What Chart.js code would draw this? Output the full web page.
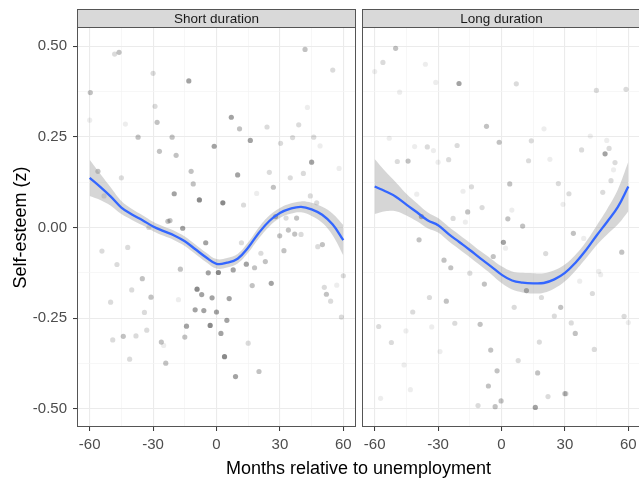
<!DOCTYPE html>
<html><head><meta charset="utf-8">
<script src="https://cdn.jsdelivr.net/npm/chart.js@4"></script>
<style>
html,body{margin:0;padding:0;background:#fff;}
body{width:639px;height:481px;overflow:hidden;position:relative;font-family:"Liberation Sans",Arial,Helvetica,sans-serif;}
#c1{position:absolute;left:0;top:0;}
#c2{position:absolute;left:358px;top:0;}
#xt{position:absolute;left:0;width:717px;top:458px;line-height:20px;text-align:center;font-size:18px;color:#000;white-space:nowrap;}
</style></head>
<body>
<canvas id="c2" width="287" height="481"></canvas>
<canvas id="c1" width="360" height="481"></canvas>
<div id="xt">Months relative to unemployment</div>
<script>
// ---- data ----
const panels = ['Short duration', 'Long duration'];
const xTickLabels = [-60, -30, 0, 30, 60];
const yTickLabels = [-0.50, -0.25, 0.00, 0.25, 0.50];

const shortMonth = [-59.7,-60,-48.2,-46.1,-30,-13.1,-29.1,-43.1,-28.1,-37.1,
 -21,7,10.9,23.9,38.9,41.9,55,43,16,-1.1,
 30.3,36,46,49,-27,-19.1,-56.1,-45,-12,10,
 25,34.9,41.1,45,58,-11,26.9,-20,-8.1,3,
 12.8,19,44.4,47.4,-53.2,-23,-22,-32,-16,28,
 32.9,37.9,-54.2,-42,-47.1,-5.1,11.8,29.9,34,37,
 40,31.9,47.9,50.1,-17.1,-3.9,0.9,7.9,14.1,18,
 21,23.1,25.9,16.9,-35.1,-40.1,-31,-50.1,-34.1,-33,
 -18,-9.2,-7,-2.1,6,-10.1,-6,0,-14.2,-3,
 4.9,-15,2.1,-44.1,-38.1,-49.1,-26.1,-25,-41.1,-24,
 3.8,15,9,20.1,51,52,54,56.9,60,59.1];
const shortEsteem = [0.372,0.296,0.478,0.483,0.425,0.404,0.334,0.285,0.290,0.249,
 0.249,0.304,0.272,0.277,0.283,0.491,0.434,0.331,0.240,0.224,
 0.232,0.248,0.249,0.225,0.210,0.199,0.155,0.137,0.155,0.145,
 0.152,0.137,0.149,0.180,0.163,0.120,0.111,0.093,0.076,0.068,
 0.062,0.094,0.087,0.068,0.087,0.017,0.019,0.000,-0.002,0.030,
 0.026,0.026,-0.065,-0.055,-0.102,-0.042,-0.042,-0.023,-0.007,-0.018,
 -0.019,-0.064,-0.053,-0.047,-0.115,-0.125,-0.124,-0.117,-0.101,-0.111,
 -0.071,-0.094,-0.154,-0.160,-0.141,-0.172,-0.192,-0.206,-0.234,-0.283,
 -0.199,-0.170,-0.185,-0.194,-0.196,-0.227,-0.229,-0.233,-0.272,-0.270,
 -0.256,-0.302,-0.292,-0.300,-0.299,-0.310,-0.316,-0.325,-0.363,-0.374,
 -0.356,-0.319,-0.411,-0.397,-0.165,-0.184,-0.203,-0.159,-0.133,-0.247];
const shortWeight = [3,1,2,3,2,4,2,1,3,3,
 3,4,3,2,2,3,2,1,4,4,
 2,2,2,1,3,3,3,2,3,4,
 2,2,2,4,1,3,3,4,5,5,
 2,1,2,2,2,3,3,2,4,4,
 2,3,2,2,2,4,2,3,3,3,
 2,3,2,3,3,4,5,4,4,3,
 2,3,4,3,3,2,3,2,2,2,
 1,5,4,4,4,4,4,4,4,5,
 4,3,4,3,2,2,3,1,2,3,
 5,2,4,3,2,3,2,1,2,2];

const longMonth = [-50.1,-56.1,-60,-36,-31.1,-20.1,7,-48.2,44.9,58.9,
 -7.1,20.1,-1.1,42,-53.1,-41.1,-35.1,-32.2,-21,14.1,
 37.9,49.8,50.9,49,53.7,53,51.8,47.9,-49.3,-44.2,
 -30,-25,12.8,22.9,3.9,26.9,-14.2,-18.2,-40.1,31.9,
 29.1,-9.2,-16,4.9,3,-22.9,-37.9,-17.1,10,-39,
 0.9,1.9,-3.9,34,38.9,20.9,-27.2,-24,-15,-8.1,
 11.8,18.9,6,28,25,37,43,46,46.9,56.9,
 -34.1,-26.1,-42,-58.1,-45.2,-33,-22.1,-10.1,-52.1,-29.1,
 -46.1,-43.1,-57.2,-5.1,7.9,-2.1,-6.2,17.1,17.9,33,
 34.9,43.9,58,60,-11.1,-3,-0.2,16,22,30,
 30.5];
const longEsteem = [0.494,0.455,0.430,0.450,0.400,0.397,0.396,0.373,0.378,0.381,
 0.279,0.272,0.235,0.252,0.246,0.223,0.222,0.212,0.226,0.239,
 0.214,0.240,0.218,0.203,0.179,0.159,0.129,0.097,0.182,0.183,
 0.180,0.187,0.184,0.188,0.120,0.121,0.112,0.100,0.092,0.093,
 0.064,0.055,0.043,0.048,0.024,0.025,0.030,0.015,0.004,-0.034,
 -0.041,-0.057,-0.080,-0.016,-0.030,-0.072,-0.090,-0.111,-0.126,-0.156,
 -0.174,-0.193,-0.220,-0.220,-0.244,-0.148,-0.182,-0.121,-0.130,-0.068,
 -0.193,-0.203,-0.233,-0.273,-0.285,-0.274,-0.264,-0.267,-0.317,-0.342,
 -0.379,-0.447,-0.471,-0.338,-0.367,-0.395,-0.437,-0.401,-0.316,-0.263,
 -0.292,-0.336,-0.245,-0.262,-0.491,-0.494,-0.478,-0.496,-0.466,-0.458,
 -0.458];
const longWeight = [3,2,1,1,1,4,2,1,2,2,
 3,1,3,1,1,1,2,1,2,2,
 2,1,2,4,2,1,2,2,2,3,
 1,2,2,1,3,2,2,1,1,2,
 1,2,3,1,3,2,4,1,3,3,
 4,1,3,3,1,2,3,3,2,3,
 4,2,2,3,2,1,2,1,1,3,
 2,3,2,2,1,1,2,3,2,1,
 1,1,1,3,2,3,3,3,2,2,
 3,2,2,1,2,3,3,4,2,3,
 2];

// smoothed (loess) curve and its confidence half-width, read at these months
const smoothMonth = [-60,-55,-50,-45,-40,-35,-30,-25,-20,-15,-10,-5,0,5,10,15,20,25,30,35,40,45,50,55,60];
const shortFit = [0.137,0.112,0.085,0.055,0.036,0.020,0.003,-0.010,-0.022,-0.038,-0.060,-0.082,-0.100,-0.097,-0.086,-0.055,-0.015,0.018,0.040,0.052,0.057,0.050,0.035,0.008,-0.035];
const shortSE  = [0.050,0.036,0.025,0.018,0.015,0.014,0.013,0.013,0.013,0.013,0.013,0.013,0.013,0.013,0.013,0.014,0.015,0.015,0.014,0.014,0.015,0.018,0.022,0.030,0.042];
const longFit  = [0.113,0.100,0.085,0.063,0.042,0.020,0.006,-0.018,-0.040,-0.062,-0.085,-0.107,-0.130,-0.146,-0.152,-0.154,-0.153,-0.143,-0.125,-0.097,-0.062,-0.022,0.016,0.056,0.113];
const longSE   = [0.076,0.055,0.040,0.030,0.025,0.022,0.020,0.020,0.020,0.020,0.020,0.021,0.023,0.025,0.027,0.028,0.027,0.025,0.023,0.022,0.023,0.027,0.035,0.048,0.068];

// ---- chart construction ----
Chart.defaults.font.family = '"Liberation Sans", Arial, Helvetica, sans-serif';
const FONT = Chart.defaults.font.family;
const opacity = [0, 0.07, 0.14, 0.24, 0.36, 0.46];
const withMinor = arr => {
  const out = [];
  arr.forEach((v, i) => { out.push(v); if (i < arr.length - 1) out.push((v + arr[i + 1]) / 2); });
  return out;
};
const xAll = withMinor(xTickLabels);
const yAll = withMinor(yTickLabels);
const isMajorX = v => xTickLabels.includes(v);
const isMajorY = v => yTickLabels.some(t => Math.abs(t - v) < 1e-9);

const panelDeco = {
  id: 'panelDeco',
  beforeDraw(chart) {
    const {left, right, top} = chart.chartArea;
    const ctx = chart.ctx;
    ctx.save();
    ctx.fillStyle = '#D9D9D9';
    ctx.fillRect(left, 9, right - left, top - 9);
    ctx.strokeStyle = '#555555';
    ctx.lineWidth = 1;
    ctx.strokeRect(Math.round(left) + 0.5, 9.5, Math.round(right - left) - 1, Math.round(top) - 10);
    ctx.restore();
  },
  afterDatasetsDraw(chart) {
    const {left, right, top, bottom} = chart.chartArea;
    const ctx = chart.ctx;
    ctx.save();
    ctx.strokeStyle = '#555555';
    ctx.lineWidth = 1;
    ctx.strokeRect(Math.round(left) + 0.5, Math.round(top) - 0.5, Math.round(right - left) - 1, Math.round(bottom - top));
    ctx.restore();
  }
};

function makePanel(id, title, pm, pv, pw, fit, se, showY) {
  const pts = pm.map((m, i) => ({x: m, y: pv[i]}));
  const ptsColor = pw.map(w => `rgba(0,0,0,${opacity[w]})`);
  const fitPts = smoothMonth.map((m, i) => ({x: m, y: fit[i]}));
  const upPts = smoothMonth.map((m, i) => ({x: m, y: fit[i] + se[i]}));
  const loPts = smoothMonth.map((m, i) => ({x: m, y: fit[i] - se[i]}));
  return new Chart(document.getElementById(id), {
    type: 'scatter',
    data: {
      datasets: [
        {type: 'line', data: fitPts, showLine: true, borderColor: '#3366FF', borderWidth: 2.3,
         pointRadius: 0, fill: false, tension: 0.4, order: 0},
        {type: 'line', data: upPts, showLine: true, borderColor: 'rgba(0,0,0,0)', borderWidth: 0,
         pointRadius: 0, fill: '+1', backgroundColor: 'rgba(153,153,153,0.4)', tension: 0.4, order: 1},
        {type: 'line', data: loPts, showLine: true, borderColor: 'rgba(0,0,0,0)', borderWidth: 0,
         pointRadius: 0, fill: false, tension: 0.4, order: 2},
        {type: 'scatter', data: pts, pointRadius: 2.6, pointHoverRadius: 2.6, borderWidth: 0,
         backgroundColor: ptsColor, pointBackgroundColor: ptsColor, order: 3}
      ]
    },
    options: {
      responsive: false,
      animation: false,
      devicePixelRatio: 1,
      layout: {padding: {left: showY ? 0 : 4, right: 4, top: 0, bottom: 0}},
      plugins: {
        legend: {display: false},
        tooltip: {enabled: false},
        title: {
          display: true, text: title, fullSize: false, position: 'top',
          font: {size: 13.5, weight: 'normal', family: FONT}, color: '#1A1A1A',
          padding: {top: 10.9, bottom: 0.9}
        }
      },
      scales: {
        x: {
          type: 'linear', min: -66, max: 66,
          afterBuildTicks: s => { s.ticks = xAll.map(v => ({value: v})); },
          afterFit: s => { s.height = 54; },
          ticks: {
            autoSkip: false, maxRotation: 0, padding: 5,
            font: {size: 15, family: FONT}, color: '#4D4D4D',
            callback: v => isMajorX(v) ? String(v) : ''
          },
          grid: {
            color: c => isMajorX(c.tick.value) ? '#EBEBEB' : '#F4F4F4',
            lineWidth: c => isMajorX(c.tick.value) ? 1.1 : 0.7,
            tickLength: 4,
            tickColor: c => isMajorX(c.tick.value) ? '#333333' : 'rgba(0,0,0,0)',
            tickWidth: 1
          },
          border: {display: false}
        },
        y: {
          type: 'linear', min: -0.55, max: 0.55,
          afterBuildTicks: s => { s.ticks = yAll.map(v => ({value: v})); },
          afterFit: s => { s.width = showY ? 77 : 0; },
          ticks: {
            display: showY, padding: 6,
            font: {size: 15, family: FONT}, color: '#4D4D4D',
            callback: v => isMajorY(v) ? v.toFixed(2) : ''
          },
          grid: {
            color: c => isMajorY(c.tick.value) ? '#EBEBEB' : '#F4F4F4',
            lineWidth: c => isMajorY(c.tick.value) ? 1.1 : 0.7,
            drawTicks: showY,
            tickLength: 4,
            tickColor: c => isMajorY(c.tick.value) ? '#333333' : 'rgba(0,0,0,0)',
            tickWidth: 1
          },
          border: {display: false},
          title: {
            display: showY, text: 'Self-esteem (z)', color: '#000000',
            font: {size: 18, family: FONT}, padding: {top: 10.5, bottom: 0}
          }
        }
      }
    },
    plugins: [panelDeco]
  });
}

makePanel('c1', panels[0], shortMonth, shortEsteem, shortWeight, shortFit, shortSE, true);
makePanel('c2', panels[1], longMonth, longEsteem, longWeight, longFit, longSE, false);
</script>
</body></html>
